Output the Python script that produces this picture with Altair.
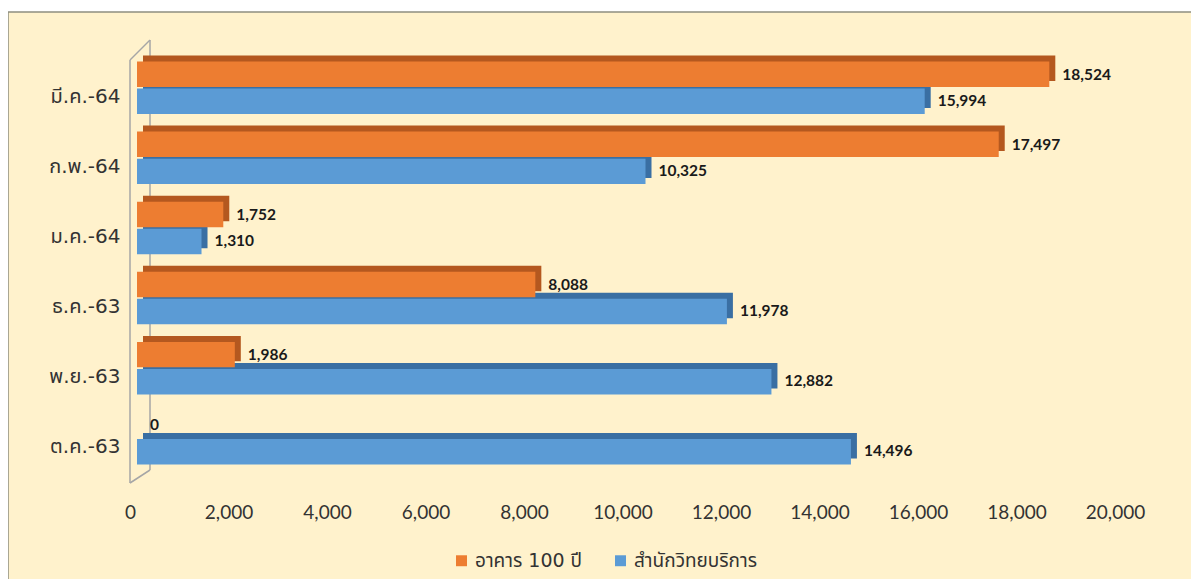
import altair as alt
import pandas as pd

months = ["ต.ค.-63", "พ.ย.-63", "ธ.ค.-63", "ม.ค.-64", "ก.พ.-64", "มี.ค.-64"]
series_names = ["อาคาร 100 ปี", "สำนักวิทยบริการ"]
a100 = [0, 1986, 8088, 1752, 17497, 18524]
office = [14496, 12882, 11978, 1310, 10325, 15994]
x_ticks = [0, 2000, 4000, 6000, 8000, 10000, 12000, 14000, 16000, 18000, 20000]

front_colors = ["#ED7D31", "#5B9BD5"]
dark_colors = ["#B4581F", "#3A6FA3"]

rows = []
for m, a, o in zip(months, a100, office):
    rows.append({"month": m, "series": series_names[0], "value": a})
    rows.append({"month": m, "series": series_names[1], "value": o})
df = pd.DataFrame(rows)

y_order = list(reversed(months))
thai_font = "Tahoma, DejaVu Sans, Noto Sans Thai, sans-serif"

PLOT_W, PLOT_H = 985, 420
step = PLOT_H / (6 - 0.25 + 2 * 0.12)
band = step * 0.75
depth_px = 6

y_enc = alt.Y("month:N", sort=y_order,
              scale=alt.Scale(paddingInner=0.25, paddingOuter=0.12),
              axis=alt.Axis(title=None, ticks=False, domain=False, zindex=1,
                            labelFont=thai_font,
                            labelFontSize=20, labelColor="#333333",
                            labelPadding=10, labelOffset=9))
yoff_front = alt.YOffset("series:N", sort=series_names,
                         scale=alt.Scale(domain=series_names, paddingInner=0.06,
                                         range=[0, band]))
yoff_depth = alt.YOffset("series:N", sort=series_names,
                         scale=alt.Scale(domain=series_names, paddingInner=0.06,
                                         range=[-depth_px, band - depth_px]))
x_enc = alt.X("value:Q", scale=alt.Scale(domain=[0, 20000]),
              axis=alt.Axis(title=None, values=x_ticks, format=",d", grid=False,
                            ticks=False, domain=False, zindex=1, labelFont="Lato",
                            labelFontSize=19, labelColor="#333333",
                            labelFlush=False, labelPadding=30))

base = alt.Chart(df)

depth = base.mark_bar(xOffset=7 + depth_px, x2Offset=7 + depth_px).encode(
    x=x_enc, y=y_enc, yOffset=yoff_depth,
    color=alt.Color("series:N", scale=alt.Scale(domain=series_names, range=dark_colors), legend=None),
)

front = base.mark_bar(xOffset=7, x2Offset=7).encode(
    x=x_enc, y=y_enc, yOffset=yoff_front,
    color=alt.Color("series:N", scale=alt.Scale(domain=series_names, range=front_colors),
                    legend=alt.Legend(title=None, orient="none", legendX=322, legendY=498,
                                      direction="horizontal", symbolType="square",
                                      symbolSize=120, symbolStrokeWidth=0,
                                      labelFont=thai_font,
                                      labelFontSize=19, labelColor="#333333",
                                      columnPadding=28, labelOffset=4)),
)

labels = base.mark_text(align="left", baseline="middle", dx=20, fontWeight="bold",
                        font="Lato", fontSize=15.5, color="#1a1a1a").encode(
    x=x_enc, y=y_enc, yOffset=yoff_front,
    text=alt.Text("value:Q", format=",d"),
)

dummy = pd.DataFrame({"k": [0]})
wall_color = "#A6A6A6"
wall = alt.Chart(dummy)
frame = wall.mark_rect(fill="#FFF2CC", stroke="#8F8F80", strokeWidth=1.5).encode(
    x=alt.value(-122), x2=alt.value(PLOT_W + 140), y=alt.value(-41), y2=alt.value(PLOT_H + 140))
w1 = wall.mark_rule(color=wall_color, strokeWidth=1.5).encode(
    x=alt.value(0), y=alt.value(7), y2=alt.value(430))
w2 = wall.mark_rule(color=wall_color, strokeWidth=1.5).encode(
    x=alt.value(20), y=alt.value(-13), y2=alt.value(417))
w3 = wall.mark_rule(color=wall_color, strokeWidth=1.5).encode(
    x=alt.value(0), x2=alt.value(20), y=alt.value(7), y2=alt.value(-13))
w4 = wall.mark_rule(color=wall_color, strokeWidth=1.5).encode(
    x=alt.value(0), x2=alt.value(20), y=alt.value(430), y2=alt.value(417))

chart = alt.layer(frame, w1, w2, w3, w4, depth, front, labels).resolve_scale(
    color="independent", yOffset="independent"
).properties(
    width=PLOT_W, height=PLOT_H,
    background="white",
    padding={"left": 122, "top": 45, "right": 76, "bottom": 106},
    autosize=alt.AutoSizeParams(type="none"),
).configure_view(stroke=None)

chart.save("out.html", embed_options={"renderer": "svg", "actions": False})
